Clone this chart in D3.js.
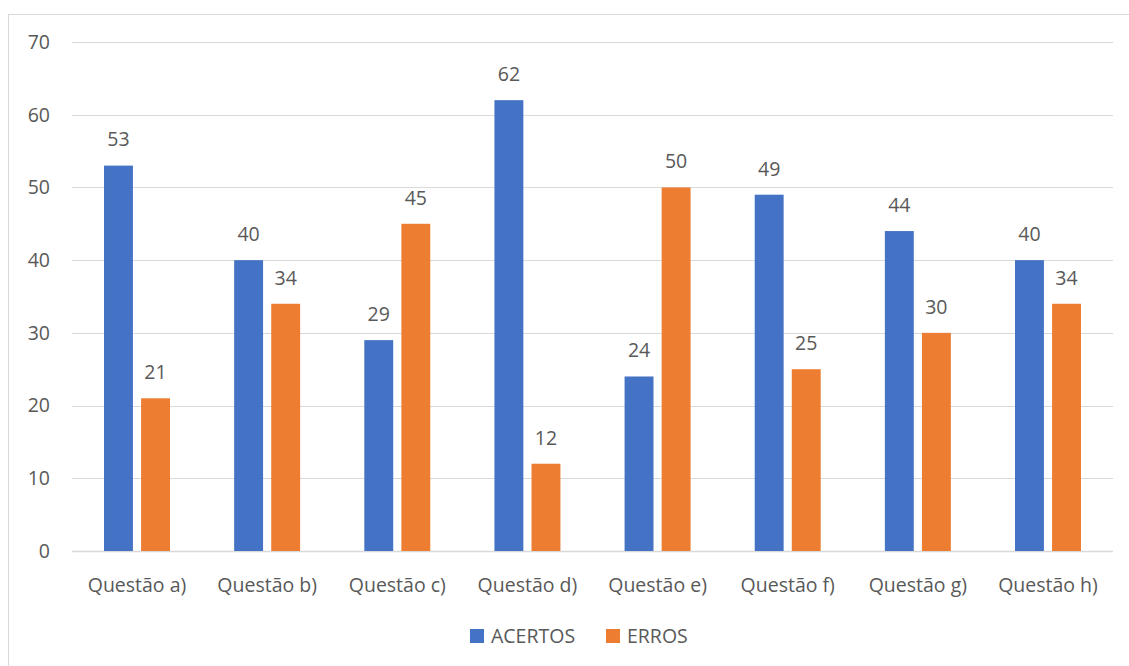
<!DOCTYPE html>
<html>
<head>
<meta charset="utf-8">
<script src="https://cdn.jsdelivr.net/npm/d3@7"></script>
<style>
  html, body { margin: 0; padding: 0; background: #fff; }
  svg { display: block; }
  text { font-family: "Open Sans", "Noto Sans", sans-serif; fill: #595959; }
</style>
</head>
<body>
<div id="chart"></div>
<script>
const categories = ['Questão a)', 'Questão b)', 'Questão c)', 'Questão d)', 'Questão e)', 'Questão f)', 'Questão g)', 'Questão h)'];
const seriesNames = ['ACERTOS', 'ERROS'];
const acertos = [53, 40, 29, 62, 24, 49, 44, 40];
const erros = [21, 34, 45, 12, 50, 25, 30, 34];
const yTicks = [0, 10, 20, 30, 40, 50, 60, 70];
const colors = ['#4472C4', '#ED7D31'];

const W = 1129, H = 666;
const plot = { left: 72, right: 1113, top: 42, bottom: 551 };
const FS = '19.5px';

const svg = d3.select('#chart').append('svg')
  .attr('width', W)
  .attr('height', H);

// chart area border
svg.append('rect')
  .attr('x', 8.5).attr('y', 14.5)
  .attr('width', W).attr('height', H)
  .attr('fill', 'none')
  .attr('stroke', '#d9d9d9');

const x0 = d3.scaleBand()
  .domain(categories)
  .range([plot.left, plot.right])
  .paddingInner(0.493)
  .paddingOuter(0.246);

const x1 = d3.scaleBand()
  .domain(seriesNames)
  .range([0, x0.bandwidth()])
  .paddingInner(0.22);

const y = d3.scaleLinear()
  .domain([0, 70])
  .range([plot.bottom, plot.top]);

// gridlines
svg.append('g')
  .selectAll('line')
  .data(yTicks)
  .join('line')
  .attr('x1', plot.left)
  .attr('x2', plot.right)
  .attr('y1', d => Math.round(y(d)) + 0.5)
  .attr('y2', d => Math.round(y(d)) + 0.5)
  .attr('stroke', '#d9d9d9')
  .attr('stroke-width', d => d === 0 ? 1.5 : 1);

// y labels
svg.append('g')
  .selectAll('text')
  .data(yTicks)
  .join('text')
  .attr('x', 50)
  .attr('y', d => y(d))
  .attr('dy', '0.35em')
  .attr('text-anchor', 'end')
  .style('font-size', FS)
  .text(d => d);

// x labels
svg.append('g')
  .selectAll('text')
  .data(categories)
  .join('text')
  .attr('x', d => x0(d) + x0.bandwidth() / 2)
  .attr('y', 585)
  .attr('dy', '0.35em')
  .attr('text-anchor', 'middle')
  .style('font-size', FS)
  .text(d => d);

const rows = categories.map((c, i) => ({ cat: c, values: [acertos[i], erros[i]] }));

const groups = svg.append('g')
  .selectAll('g')
  .data(rows)
  .join('g')
  .attr('transform', d => `translate(${x0(d.cat)},0)`);

groups.selectAll('rect')
  .data(d => d.values.map((v, k) => ({ key: seriesNames[k], value: v, k })))
  .join('rect')
  .attr('x', d => x1(d.key))
  .attr('y', d => y(d.value))
  .attr('width', x1.bandwidth())
  .attr('height', d => y(0) - y(d.value))
  .attr('fill', d => colors[d.k]);

groups.selectAll('text')
  .data(d => d.values.map((v, k) => ({ key: seriesNames[k], value: v, k })))
  .join('text')
  .attr('x', d => x1(d.key) + x1.bandwidth() / 2)
  .attr('y', d => y(d.value) - 26)
  .attr('dy', '0.35em')
  .attr('text-anchor', 'middle')
  .style('font-size', FS)
  .text(d => d.value);

// legend
const legendItems = [
  { name: seriesNames[0], color: colors[0], x: 470 },
  { name: seriesNames[1], color: colors[1], x: 606 }
];
const lg = svg.append('g')
  .selectAll('g')
  .data(legendItems)
  .join('g')
  .attr('transform', d => `translate(${d.x},629)`);
lg.append('rect')
  .attr('width', 14).attr('height', 14)
  .attr('fill', d => d.color);
lg.append('text')
  .attr('x', 21)
  .attr('y', 7)
  .attr('dy', '0.35em')
  .style('font-size', FS)
  .text(d => d.name);
</script>
</body>
</html>
